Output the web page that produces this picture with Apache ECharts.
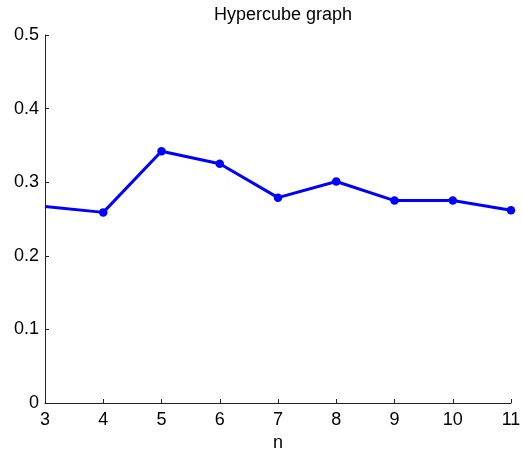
<!DOCTYPE html>
<html><head><meta charset="utf-8">
<script src="https://cdn.jsdelivr.net/npm/echarts@6/dist/echarts.min.js"></script>
<style>html,body{margin:0;padding:0;background:#fff}#c{width:522px;height:454px}</style>
</head><body><div id="c"></div>
<script>
const nValues = [3, 4, 5, 6, 7, 8, 9, 10, 11];
const yValues = [0.267, 0.259, 0.342, 0.325, 0.279, 0.301, 0.275, 0.275, 0.262];
const yTicks = [0, 0.1, 0.2, 0.3, 0.4, 0.5];
const titleText = 'Hypercube graph';
const xName = 'n';

const chart = echarts.init(document.getElementById('c'));
const font = 'Liberation Sans, Arial, Helvetica, sans-serif';
chart.setOption({
  animation: false,
  title: { text: titleText, left: 278, top: 1, textAlign: 'center',
    textStyle: { fontFamily: font, fontSize: 18, fontWeight: 'normal', color: '#000' } },
  grid: { left: 45, right: 11, top: 35, bottom: 51, containLabel: false, outerBoundsMode: 'none' },
  xAxis: {
    type: 'value', min: 3, max: 11, interval: 1,
    name: xName, nameLocation: 'middle', nameGap: 30,
    nameTextStyle: { fontFamily: font, fontSize: 18, color: '#000' },
    axisLine: { lineStyle: { color: '#222', width: 1 } },
    axisTick: { inside: true, length: 4, lineStyle: { color: '#222' } },
    axisLabel: { fontFamily: font, fontSize: 18, color: '#000', margin: 8 },
    splitLine: { show: false }
  },
  yAxis: {
    type: 'value', min: yTicks[0], max: yTicks[yTicks.length - 1], interval: 0.1,
    axisLine: { show: true, lineStyle: { color: '#222', width: 1 } },
    axisTick: { show: true, inside: true, length: 4, lineStyle: { color: '#222' } },
    axisLabel: { fontFamily: font, fontSize: 18, color: '#000', margin: 6,
      formatter: v => (Math.round(v * 10) / 10).toString() },
    splitLine: { show: false }
  },
  series: [{
    type: 'line',
    data: nValues.map((n, i) => ({ value: [n, yValues[i]], symbol: i === 0 ? 'none' : 'circle' })),
    symbol: 'circle', symbolSize: 8.5, showSymbol: true,
    lineStyle: { color: '#0000ff', width: 3 },
    itemStyle: { color: '#0000ff' }
  }]
});
</script></body></html>
